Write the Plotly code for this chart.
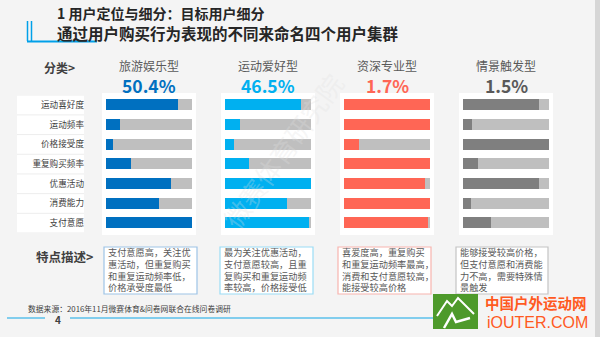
import plotly.graph_objects as go

W, H = 600, 337

categories = ["运动喜好度", "运动频率", "价格接受度", "重复购买频率", "优惠活动", "消费能力", "支付意愿"]
segments = ["旅游娱乐型", "运动爱好型", "资深专业型", "情景触发型"]
shares = ["50.4%", "46.5%", "1.7%", "1.5%"]
travel = [0.84, 0.16, 0.08, 0.29, 0.76, 0.62, 1.0]
sports = [0.88, 0.18, 0.10, 0.28, 1.0, 0.72, 0.98]
senior = [1.0, 1.0, 0.18, 1.0, 0.94, 1.0, 0.98]
scene = [0.88, 0.10, 1.0, 0.18, 0.88, 0.09, 0.33]
track = [1.0] * 7
descriptions = [
    ["支付意愿高，关注优", "惠活动，但重复购买", "和重复运动频率低，", "价格承受度最低"],
    ["最为关注优惠活动，", "支付意愿较高，且重", "复购买和重复运动频", "率较高，价格接受低"],
    ["喜爱度高，重复购买", "和重复运动频率最高，", "消费和支付意愿较高，", "能接受较高价格"],
    ["能够接受较高价格，", "但支付意愿和消费能", "力不高，需要特殊情", "景触发"],
]
title1 = "1 用户定位与细分：目标用户细分"
title2 = "通过用户购买行为表现的不同来命名四个用户集群"
source = "数据来源：2016年11月微赛体育&问卷网联合在线问卷调研"

series = [travel, sports, senior, scene]
bar_colors = ["#0070C0", "#00B0F0", "#FF6655", "#7F7F7F"]
pct_colors = ["#0070C0", "#00B0F0", "#FF6655", "#595959"]
box_colors = ["#9DC3E6", "#9ADCF5", "#F7B4AE", "#C4C4C4"]
col_px = [(106, 192), (225, 311), (344, 430), (463, 549)]
box_px = [(104, 197), (220, 313), (338, 431), (456, 548)]

FONT = "Noto Sans CJK SC"

def px(x):
    return x / W

def py(y):
    return 1 - y / H

fig = go.Figure()
layout_axes = {}
for i, vals in enumerate(series):
    ax = "x" if i == 0 else f"x{i+1}"
    key = "xaxis" if i == 0 else f"xaxis{i+1}"
    fig.add_trace(go.Bar(y=categories, x=track, orientation="h", xaxis=ax, yaxis="y",
                         marker=dict(color="#BFBFBF", line=dict(width=0)), width=0.56,
                         hoverinfo="skip", showlegend=False))
    fig.add_trace(go.Bar(y=categories, x=vals, orientation="h", xaxis=ax, yaxis="y",
                         marker=dict(color=bar_colors[i], line=dict(width=0)), width=0.56,
                         showlegend=False))
    x0, x1 = col_px[i]
    layout_axes[key] = dict(domain=[px(x0), px(x1)], range=[0, 1], anchor="y",
                            visible=False, fixedrange=True)

shapes = []
annotations = []

# background panels
shapes.append(dict(type="rect", xref="paper", yref="paper", x0=px(17), x1=px(84),
                   y0=py(233), y1=py(95), fillcolor="white", line=dict(width=0), layer="below"))
for i in range(4):
    x0, x1 = col_px[i]
    shapes.append(dict(type="rect", xref="paper", yref="paper", x0=px(x0 - 4), x1=px(x1 + 4),
                       y0=py(235), y1=py(93), fillcolor="white", line=dict(width=0), layer="below"))
shapes.append(dict(type="rect", xref="paper", yref="paper", x0=px(595), x1=1,
                   y0=0, y1=1, fillcolor="#D6D6D6", line=dict(width=0), layer="below"))

# row separators in label area
for k in range(len(categories) + 1):
    shapes.append(dict(type="line", xref="paper", yref="y", x0=px(17), x1=px(84),
                       y0=k - 0.5, y1=k - 0.5, line=dict(color="#EDEDED", width=1), layer="below"))

# title decoration
deco = "#00A0E9"
for xx in (27.5, 31.5):
    shapes.append(dict(type="line", xref="paper", yref="paper", x0=px(xx), x1=px(xx),
                       y0=py(21), y1=py(41), line=dict(color=deco, width=1.5)))
shapes.append(dict(type="line", xref="paper", yref="paper", x0=px(27), x1=px(97),
                   y0=py(41.5), y1=py(41.5), line=dict(color=deco, width=2)))

annotations.append(dict(text=f"<b>{title1}</b>", xref="paper", yref="paper", x=px(55), y=py(13),
                        xanchor="left", yanchor="middle", showarrow=False,
                        font=dict(family=FONT, size=14, color="#262626")))
annotations.append(dict(text=f"<b>{title2}</b>", xref="paper", yref="paper", x=px(55), y=py(33),
                        xanchor="left", yanchor="middle", showarrow=False,
                        font=dict(family=FONT, size=15.5, color="#262626")))

# headers
annotations.append(dict(text="<b>分类></b>", xref="paper", yref="paper", x=px(59), y=py(67),
                        xanchor="center", yanchor="middle", showarrow=False,
                        font=dict(family=FONT, size=12, color="#404040")))
annotations.append(dict(text="<b>特点描述></b>", xref="paper", yref="paper", x=px(64), y=py(256),
                        xanchor="center", yanchor="middle", showarrow=False,
                        font=dict(family=FONT, size=12.5, color="#404040")))

for i in range(4):
    x0, x1 = col_px[i]
    cx = (x0 + x1) / 2
    annotations.append(dict(text=segments[i], xref="paper", yref="paper", x=px(cx), y=py(65),
                            xanchor="center", yanchor="middle", showarrow=False,
                            font=dict(family=FONT, size=12, color="#595959")))
    annotations.append(dict(text=f"<b>{shares[i]}</b>", xref="paper", yref="paper", x=px(cx), y=py(86),
                            xanchor="center", yanchor="middle", showarrow=False,
                            font=dict(family=FONT, size=17.5, color=pct_colors[i])))
    bx0, bx1 = box_px[i]
    shapes.append(dict(type="rect", xref="paper", yref="paper", x0=px(bx0), x1=px(bx1),
                       y0=py(294), y1=py(247), fillcolor="white",
                       line=dict(color=box_colors[i], width=1.2)))
    for j, line in enumerate(descriptions[i]):
        annotations.append(dict(text=line, xref="paper", yref="paper", borderpad=0,
                                x=px(bx0 + 3), y=py(252.5 + j * 11.6), xanchor="left", yanchor="middle",
                                align="left", showarrow=False,
                                font=dict(family=FONT, size=9.2, color="#595959")))

# source and page line
annotations.append(dict(text=source, xref="paper", yref="paper", x=px(26), y=py(308),
                        xanchor="left", yanchor="middle", showarrow=False,
                        font=dict(family=FONT, size=7.8, color="#404040")))
shapes.append(dict(type="line", xref="paper", yref="paper", x0=px(7), x1=px(45),
                   y0=py(318), y1=py(318), line=dict(color="#5BC0EB", width=1.5)))
shapes.append(dict(type="line", xref="paper", yref="paper", x0=px(70), x1=px(470),
                   y0=py(318), y1=py(318), line=dict(color="#5BC0EB", width=1.5)))
annotations.append(dict(text="<b>4</b>", xref="paper", yref="paper", x=px(58), y=py(319),
                        xanchor="center", yanchor="middle", showarrow=False,
                        font=dict(family=FONT, size=10, color="#404040")))

# watermark
annotations.append(dict(text="微赛体育研究院", xref="paper", yref="paper", x=px(282), y=py(150),
                        xanchor="center", yanchor="middle", showarrow=False, textangle=-54,
                        font=dict(family=FONT, size=26, color="rgba(225,225,225,0.3)")))

# logo
shapes.append(dict(type="rect", xref="paper", yref="paper", x0=px(433), x1=px(478),
                   y0=py(329), y1=py(294), fillcolor="#4E9A2B", line=dict(width=0)))
def pth(points):
    return "M " + " L ".join(f"{px(a)},{py(b)}" for a, b in points)
shapes.append(dict(type="path", xref="paper", yref="paper",
                   path=pth([(437, 316), (447, 301), (452, 306), (458, 298), (474, 314)]),
                   line=dict(color="white", width=2)))
shapes.append(dict(type="path", xref="paper", yref="paper",
                   path=pth([(444, 328), (452, 314), (456, 322), (470, 318)]),
                   line=dict(color="white", width=2.5)))
annotations.append(dict(text="<b>中国户外运动网</b>", xref="paper", yref="paper", x=px(536), y=py(302),
                        xanchor="center", yanchor="middle", showarrow=False,
                        font=dict(family=FONT, size=14.5, color="#FF5A1F")))
annotations.append(dict(text="iOUTER.COM", xref="paper", yref="paper", x=px(537), y=py(322),
                        xanchor="center", yanchor="middle", showarrow=False,
                        font=dict(family="Liberation Sans", size=16, color="#FF5A1F")))

fig.update_layout(
    width=W, height=H, margin=dict(l=0, r=0, t=0, b=0),
    paper_bgcolor="#F4F4F4", plot_bgcolor="rgba(0,0,0,0)",
    barmode="overlay", bargap=0,
    yaxis=dict(type="category", categoryorder="array", categoryarray=categories,
               range=[6.5, -0.5], domain=[py(233), py(95.2)], anchor="x",
               showgrid=False, zeroline=False, showline=False, ticks="",
               ticklabelstandoff=21, fixedrange=True,
               tickfont=dict(family=FONT, size=8.6, color="#404040")),
    shapes=shapes, annotations=annotations,
    **layout_axes,
)

fig.write_html("out.html")
